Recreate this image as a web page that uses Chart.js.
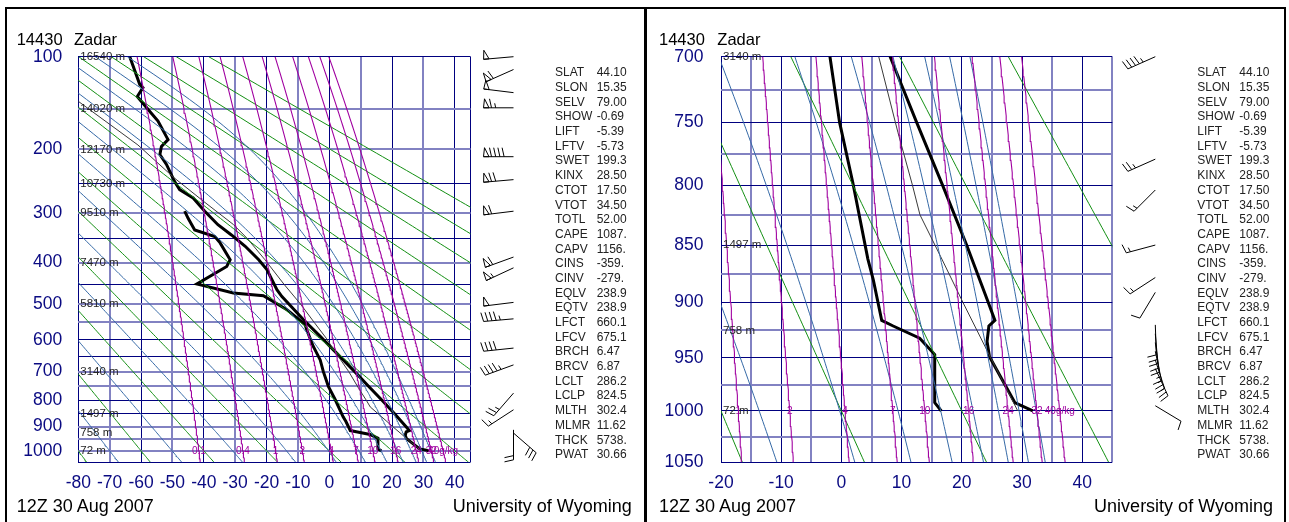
<!DOCTYPE html>
<html lang="en">
<head>
<meta charset="utf-8">
<title>14430 Zadar - 12Z 30 Aug 2007</title>
<script src="https://cdn.jsdelivr.net/npm/chart.js"></script>
<style>
    html, body { margin: 0; padding: 0; background: #fff; }
    body { width: 1289px; height: 522px; position: relative; overflow: hidden;
           font-family: "Liberation Sans", Arial, Helvetica, sans-serif; color: #000; }
    .frame { position: absolute; top: 7px; height: 560px; border: 2px solid #000; box-sizing: border-box; }
    canvas { position: absolute; top: 0; }
    .txt { position: absolute; white-space: nowrap; }
</style>
</head>
<body>
<div class="frame" style="left:5px;width:641px"></div>
<div class="frame" style="left:645px;width:641px"></div>
<canvas id="leftChart" width="646" height="522" style="left:0"></canvas>
<canvas id="rightChart" width="643" height="522" style="left:646px"></canvas>
<div id="texts"></div>
<script>
    // Stuve diagram: y runs linear in p^(R/cp)
    const KAPPA = 0.2857;
    const toY = p => Math.pow(p, KAPPA);
    const toP = v => Math.pow(v, 1 / KAPPA);

    // sounding (hPa, deg C)
    const TEMP_P = [1000, 992, 949, 935, 921, 916, 900, 850, 800, 750, 700, 590, 542, 481, 464, 416, 394, 365, 342, 322, 297, 274, 260, 247, 221, 207, 196, 187, 164, 153, 137, 128, 125, 100];
    const TEMP_C = [31.8, 28.8, 24.6, 24.2, 24.5, 25.5, 24.4, 20.8, 16.8, 12.5, 8.1, -2.9, -8.3, -15.1, -16.7, -19.9, -22.5, -26.8, -31.2, -35.5, -39.7, -43.4, -47.7, -49.3, -51.9, -54.0, -53.5, -51.4, -54.6, -57.2, -61.2, -59.4, -60.4, -63.6];
    const DEW_P = [1000, 992, 947, 932, 921, 916, 880, 862, 798, 750, 700, 662, 620, 571, 556, 515, 479, 472, 450, 409, 394, 358, 345, 332, 310, 297];
    const DEW_C = [16.6, 15.5, 15.5, 13.0, 8.6, 6.7, 5.3, 4.4, 1.9, -0.3, -1.9, -2.9, -5.1, -7.2, -7.7, -13.5, -21.0, -30.6, -42.2, -32.7, -31.6, -34.8, -36.5, -42.9, -45.0, -46.1];
    const PARCEL_P = [1000, 950, 900, 860, 824.5, 800, 758, 700, 650, 595, 550, 500, 450, 394, 350, 322, 280, 241, 194, 142];
    const PARCEL_C = [29.3, 24.8, 20.2, 16.5, 13.05, 11.8, 9.4, 6.2, 2.8, -1.0, -4.8, -9.2, -14.5, -20.5, -26.0, -30.5, -40.0, -49.5, -61.0, -80.0];

    // background families
    const DRY_THETA_C = [-80, -60, -40, -20, 0, 20, 40, 60, 80, 100, 120, 140, 160, 180];
    const MOIST_THETAE_C = [-70, -50, -30, -10, 10, 30, 50, 70, 90, 110, 130];
    const MIX_RATIOS = [0.1, 0.4, 1, 2, 4, 7, 10, 16, 24, 32, 40];
    const MIX_LABELS = ['0.1', '0.4', '1', '2', '4', '7', '10', '16', '24', '32', '40g/kg'];

    // standard level heights
    const HGT_P = [100, 150, 200, 250, 300, 400, 500, 700, 850, 925, 1000];
    const HGT_M = ['16540', '14020', '12170', '10730', '9510', '7470', '5810', '3140', '1497', '758', '72'];

    // winds (hPa, deg, kt)
    const LEFT_WIND_P = [100, 111, 133, 149, 210, 244, 297, 388, 412, 496, 540, 625, 678, 774, 835, 913, 926];
    const LEFT_WIND_DIR = [265, 246, 277, 270, 270, 265, 263, 250, 245, 263, 265, 264, 250, 221, 237, 180, 131];
    const LEFT_WIND_KT = [50, 60, 50, 65, 90, 70, 60, 60, 55, 50, 45, 40, 45, 25, 15, 20, 30];
    const RIGHT_WIND_P = [700, 779, 804, 850, 878, 891, 920, 928, 936, 944, 952, 960, 995];
    const RIGHT_WIND_DIR = [246, 246, 225, 255, 237, 211, 178, 175, 172, 168, 162, 155, 121];
    const RIGHT_WIND_KT = [45, 25, 15, 15, 15, 10, 10, 20, 20, 15, 25, 25, 10];

    // station indices
    const INDEX_NAMES = ['SLAT', 'SLON', 'SELV', 'SHOW', 'LIFT', 'LFTV', 'SWET', 'KINX', 'CTOT', 'VTOT', 'TOTL', 'CAPE', 'CAPV', 'CINS', 'CINV', 'EQLV', 'EQTV', 'LFCT', 'LFCV', 'BRCH', 'BRCV', 'LCLT', 'LCLP', 'MLTH', 'MLMR', 'THCK', 'PWAT'];
    const INDEX_VALUES = ['44.10', '15.35', '79.00', '-0.69', '-5.39', '-5.73', '199.3', '28.50', '17.50', '34.50', '52.00', '1087.', '1156.', '-359.', '-279.', '238.9', '238.9', '660.1', '675.1', '6.47', '6.87', '286.2', '824.5', '302.4', '11.62', '5738.', '30.66'];

    // axes
    const LEFT_T_TICKS = [-80, -70, -60, -50, -40, -30, -20, -10, 0, 10, 20, 30, 40, 45];
    const LEFT_P_TICKS = [100, 150, 200, 250, 300, 350, 400, 450, 500, 550, 600, 650, 700, 750, 800, 850, 900, 950, 1000, 1050];
    const RIGHT_T_TICKS = [-20, -15, -10, -5, 0, 5, 10, 15, 20, 25, 30, 35, 40, 45];
    const RIGHT_P_TICKS = [700, 725, 750, 775, 800, 825, 850, 875, 900, 925, 950, 975, 1000, 1025, 1050];

    const FONT = '"Liberation Sans", Arial, Helvetica, sans-serif';
    const NAVY = '#0a0a82';
    const GRID_DARK = '#00007f';
    const GRID_LIGHT = '#8282c2';

    // thermodynamics for the background lines
    function esat(tc) {
        return 6.112 * Math.exp(17.67 * tc / (tc + 243.5));
    }

    function mixT(w, p) {
        const e = w * p / (622 + w);
        const l = Math.log(e / 6.112);
        return 243.5 * l / (17.67 - l);
    }

    function thetaE(tc, p) {
        const e = esat(tc);
        if (e > 0.6 * p) return 1e9;
        const r = 622 * e / (p - e);
        const tk = tc + 273.15;
        return tk * Math.pow(1000 / p, 0.2854 * (1 - 0.00028 * r)) *
            Math.exp((3.376 / tk - 0.00254) * r * (1 + 0.00081 * r));
    }

    function moistT(thK, p) {
        let lo = -160, hi = 60;
        for (let i = 0; i < 45; i++) {
            const m = (lo + hi) / 2;
            if (thetaE(m, p) > thK) hi = m; else lo = m;
        }
        return (lo + hi) / 2;
    }

    const SAMPLE_P = [];
    for (let p = 1050; p >= 100; p -= 5) SAMPLE_P.push(p);

    function curve(fn) {
        return SAMPLE_P.map(p => ({ x: fn(p), y: toY(p) }));
    }

    function lineSet(points, color, width) {
        return {
            data: points, showLine: true, borderColor: color, borderWidth: width,
            pointRadius: 0, tension: 0, fill: false
        };
    }

    function buildDatasets() {
        const sets = [];
        MIX_RATIOS.forEach(w => sets.push(lineSet(curve(p => mixT(w, p)), '#a000a0', 1.1)));
        MOIST_THETAE_C.forEach(th => sets.push(lineSet(curve(p => moistT(th + 273.15, p)), '#3569a6', 1)));
        DRY_THETA_C.forEach(th => sets.push(lineSet(curve(p => (th + 273.15) * Math.pow(p / 1000, KAPPA) - 273.15), '#138f13', 1)));
        sets.push(lineSet(PARCEL_P.map((p, i) => ({ x: PARCEL_C[i], y: toY(p) })), '#3a3a3a', 1));
        sets.push(lineSet(DEW_P.map((p, i) => ({ x: DEW_C[i], y: toY(p) })), '#000', 3));
        sets.push(lineSet(TEMP_P.map((p, i) => ({ x: TEMP_C[i], y: toY(p) })), '#000', 3));
        return sets;
    }

    function drawBarb(ctx, x, y, dir, kt) {
        const rad = dir * Math.PI / 180;
        const dx = Math.sin(rad), dy = -Math.cos(rad);
        const nx = -dy, ny = dx;
        const L = 30, gap = 4.2, len = 9;
        ctx.beginPath();
        ctx.moveTo(x, y);
        ctx.lineTo(x + dx * L, y + dy * L);
        ctx.stroke();
        let s = Math.round(kt / 5) * 5;
        let d = L;
        while (s >= 50) {
            const bx = x + dx * d, by = y + dy * d;
            const ex = x + dx * (d - 5.5), ey = y + dy * (d - 5.5);
            ctx.beginPath();
            ctx.moveTo(bx, by);
            ctx.lineTo(bx + nx * len - dx * 1, by + ny * len - dy * 1);
            ctx.lineTo(ex, ey);
            ctx.closePath();
            ctx.stroke();
            d -= 5.5 + 2.5;
            s -= 50;
        }
        let first = true;
        while (s >= 10) {
            const bx = x + dx * d, by = y + dy * d;
            ctx.beginPath();
            ctx.moveTo(bx, by);
            ctx.lineTo(bx + nx * len + dx * 2, by + ny * len + dy * 2);
            ctx.stroke();
            d -= gap;
            s -= 10;
            first = false;
        }
        if (s >= 5) {
            if (first && d === L) d -= gap;
            const bx = x + dx * d, by = y + dy * d;
            ctx.beginPath();
            ctx.moveTo(bx, by);
            ctx.lineTo(bx + nx * len / 2 + dx, by + ny * len / 2 + dy);
            ctx.stroke();
        }
    }

    function makeDecor(winds) {
        return {
            id: 'decor',
            afterDraw(chart) {
                const { ctx, chartArea: a, scales: { x, y } } = chart;
                const pTop = toP(y.min), pBot = toP(y.max);
                ctx.save();
                // mixing ratio labels on the 1000 hPa line
                ctx.font = '10px ' + FONT;
                ctx.fillStyle = '#a000a0';
                ctx.textAlign = 'center';
                ctx.textBaseline = 'middle';
                const y1000 = y.getPixelForValue(toY(1000));
                MIX_RATIOS.forEach((w, i) => {
                    const px = x.getPixelForValue(mixT(w, 1000));
                    if (px > a.left && px < a.right) ctx.fillText(MIX_LABELS[i], px, y1000);
                });
                // heights of standard levels
                ctx.font = '11.5px ' + FONT;
                ctx.fillStyle = '#252525';
                ctx.textAlign = 'left';
                HGT_P.forEach((p, i) => {
                    if (p >= pTop - 0.1 && p <= pBot) {
                        ctx.fillText(HGT_M[i] + ' m', a.left + 2, y.getPixelForValue(toY(p)));
                    }
                });
                // wind barbs
                ctx.strokeStyle = '#000';
                ctx.lineWidth = 1;
                winds.p.forEach((p, i) => {
                    drawBarb(ctx, a.right + 43, y.getPixelForValue(toY(p)), winds.dir[i], winds.kt[i]);
                });
                ctx.restore();
            }
        };
    }

    function panelChart(canvasId, cfg) {
        return new Chart(document.getElementById(canvasId), {
            type: 'scatter',
            data: { datasets: buildDatasets() },
            options: {
                responsive: false,
                animation: false,
                events: [],
                devicePixelRatio: 1,
                layout: { padding: { left: 0, top: 56.7, right: cfg.padRight, bottom: 29.7 } },
                plugins: { legend: { display: false }, tooltip: { enabled: false } },
                scales: {
                    x: {
                        type: 'linear',
                        min: cfg.tTicks[0],
                        max: cfg.tTicks[cfg.tTicks.length - 1],
                        afterBuildTicks: s => { s.ticks = cfg.tTicks.map(v => ({ value: v })); },
                        afterFit: s => { s.height = 30; },
                        border: { display: false },
                        grid: {
                            drawTicks: false,
                            color: c => cfg.lightT(c.tick.value) ? GRID_LIGHT : GRID_DARK,
                            lineWidth: c => cfg.lightT(c.tick.value) ? 2 : 1
                        },
                        ticks: {
                            autoSkip: false, maxRotation: 0, padding: 10, color: NAVY,
                            font: { family: FONT, size: 17.5 },
                            callback: v => cfg.labelT(v) ? String(v) : ''
                        }
                    },
                    y: {
                        type: 'linear',
                        reverse: true,
                        min: toY(cfg.pTicks[0]),
                        max: toY(cfg.pTicks[cfg.pTicks.length - 1]),
                        afterBuildTicks: s => { s.ticks = cfg.pTicks.map(p => ({ value: toY(p) })); },
                        afterFit: s => { s.width = cfg.axisW; },
                        border: { display: false },
                        grid: {
                            drawTicks: false,
                            color: c => cfg.lightP(Math.round(toP(c.tick.value))) ? GRID_LIGHT : GRID_DARK,
                            lineWidth: c => cfg.lightP(Math.round(toP(c.tick.value))) ? 2 : 1
                        },
                        ticks: {
                            autoSkip: false, padding: cfg.labelPad, color: NAVY,
                            font: { family: FONT, size: 17.5 },
                            callback: v => {
                                const p = Math.round(toP(v));
                                return cfg.labelP(p) ? String(p) : '';
                            }
                        }
                    }
                }
            },
            plugins: [makeDecor(cfg.winds)]
        });
    }

    const LEFT_LIGHT_P = [150, 200, 300, 400, 500, 550, 700, 750, 900, 950, 1000];

    panelChart('leftChart', {
        tTicks: LEFT_T_TICKS, pTicks: LEFT_P_TICKS,
        padRight: 646 - 470.5, axisW: 78.3, labelPad: 16,
        lightT: v => Math.abs(v % 20) === 10,
        lightP: p => LEFT_LIGHT_P.includes(p),
        labelT: v => v % 10 === 0,
        labelP: p => p % 100 === 0 && p <= 1000,
        winds: { p: LEFT_WIND_P, dir: LEFT_WIND_DIR, kt: LEFT_WIND_KT }
    });

    panelChart('rightChart', {
        tTicks: RIGHT_T_TICKS, pTicks: RIGHT_P_TICKS,
        padRight: 643 - 466.3, axisW: 75, labelPad: 17.5,
        lightT: v => v % 10 !== 0,
        lightP: p => p % 50 !== 0,
        labelT: v => v % 10 === 0 && v <= 40,
        labelP: p => p % 50 === 0,
        winds: { p: RIGHT_WIND_P, dir: RIGHT_WIND_DIR, kt: RIGHT_WIND_KT }
    });

    // titles, footers and the index table
    const texts = document.getElementById('texts');

    function addText(str, left, centerY, size, extra) {
        const el = document.createElement('div');
        el.className = 'txt';
        el.textContent = str;
        el.style.fontSize = size + 'px';
        el.style.lineHeight = '20px';
        el.style.top = (centerY - 10) + 'px';
        if (extra && extra.right !== undefined) {
            el.style.right = extra.right + 'px';
        } else {
            el.style.left = left + 'px';
        }
        if (extra && extra.color) el.style.color = extra.color;
        texts.appendChild(el);
    }

    [[16.7, 74, 505.8, 631.7, 555, 596.7], [659, 717.3, 505.8, 1273, 1197.3, 1239.3]].forEach(([tx, zx, fy, ux, ix, vx]) => {
        addText('14430', tx, 39.2, 16.5);
        addText('Zadar', zx, 39.2, 16.5);
        addText('12Z 30 Aug 2007', tx, fy, 18);
        addText('University of Wyoming', 0, fy, 18, { right: 1289 - ux });
        INDEX_NAMES.forEach((name, i) => {
            const cy = 72.3 + i * 14.69;
            addText(name, ix, cy, 12, { color: '#222' });
            addText(INDEX_VALUES[i], vx, cy, 12, { color: '#222' });
        });
    });
</script>
</body>
</html>
